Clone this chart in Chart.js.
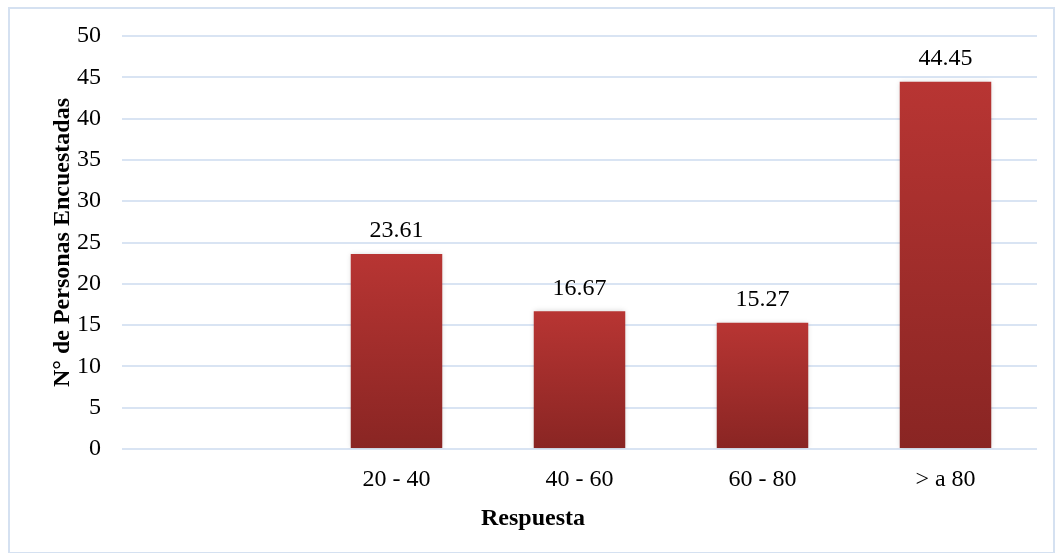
<!DOCTYPE html>
<html>
<head>
<meta charset="utf-8">
<script src="https://cdn.jsdelivr.net/npm/chart.js@4.4.1/dist/chart.umd.min.js"></script>
<style>
  html, body { margin: 0; padding: 0; background: #fff; }
  #wrap { width: 1059px; height: 553px; }
</style>
</head>
<body>
<div id="wrap"><canvas id="grafico" width="1059" height="553"></canvas></div>
<script>
const categorias = ["", "20 - 40", "40 - 60", "60 - 80", "> a 80"];
const valores = [null, 23.61, 16.67, 15.27, 44.45];
const ticksY = [0, 5, 10, 15, 20, 25, 30, 35, 40, 45, 50];

const fuente = "'Liberation Serif', 'Times New Roman', serif";

// degradado de cada barra, de arriba (claro) a abajo (oscuro)
const colorBarra = (context) => {
	const chart = context.chart;
	const y = chart.scales.y;
	const v = context.raw;
	if (!chart.chartArea || !y || v == null) return "#a22f2d";
	const top = y.getPixelForValue(v);
	const bottom = y.getPixelForValue(0);
	const g = chart.ctx.createLinearGradient(0, top, 0, bottom);
	g.addColorStop(0, "#b83533");
	g.addColorStop(1, "#892523");
	return g;
};

const extras = {
	id: "extras",
	beforeDraw(chart) {
		const ctx = chart.ctx;
		ctx.save();
		ctx.strokeStyle = "#d5e1f1";
		ctx.lineWidth = 2;
		ctx.strokeRect(9, 8, 1045, 545);
		ctx.restore();
	},
	beforeDatasetsDraw(chart) {
		const ctx = chart.ctx;
		ctx.save();
		ctx.shadowColor = "rgba(0,0,0,0.18)";
		ctx.shadowBlur = 5;
	},
	afterDatasetsDraw(chart) {
		const ctx = chart.ctx;
		ctx.restore();
		ctx.save();
		ctx.font = "24px " + fuente;
		ctx.fillStyle = "#000";
		ctx.textAlign = "center";
		ctx.textBaseline = "bottom";
		chart.getDatasetMeta(0).data.forEach((bar, i) => {
			if (valores[i] == null) return;
			ctx.fillText(valores[i].toFixed(2), bar.x, bar.y - 11);
		});
		// título eje x
		ctx.font = "bold 24px " + fuente;
		ctx.textBaseline = "middle";
		ctx.fillText("Respuesta", chart.chartArea.left + 411, 519);
		ctx.restore();
	},
};

new Chart(document.getElementById("grafico"), {
	type: "bar",
	data: {
		labels: categorias,
		datasets: [
			{
				data: valores,
				backgroundColor: colorBarra,
				barPercentage: 0.5,
				categoryPercentage: 1,
			},
		],
	},
	options: {
		responsive: false,
		animation: false,
		layout: { padding: { top: 36, right: 22, left: 0, bottom: 0 } },
		plugins: { legend: { display: false }, tooltip: { enabled: false } },
		scales: {
			x: {
				grid: { display: false },
				border: { display: false },
				ticks: { color: "#000", font: { family: fuente, size: 24 }, padding: 8 },
				afterFit: (scale) => { scale.height = 104; },
			},
			y: {
				min: 0,
				max: 50,
				afterBuildTicks: (scale) => { scale.ticks = ticksY.map((v) => ({ value: v })); },
				grid: { color: "#d9e4f3", lineWidth: 2, drawTicks: false },
				border: { display: false },
				ticks: { color: "#000", font: { family: fuente, size: 24 }, padding: 21 },
				title: {
					display: true,
					text: "N° de Personas Encuestadas",
					color: "#000",
					font: { family: fuente, size: 24, weight: "bold" },
					padding: { top: 48, bottom: 0 },
				},
				afterFit: (scale) => { scale.width = 122; },
			},
		},
	},
	plugins: [extras],
});
</script>
</body>
</html>
